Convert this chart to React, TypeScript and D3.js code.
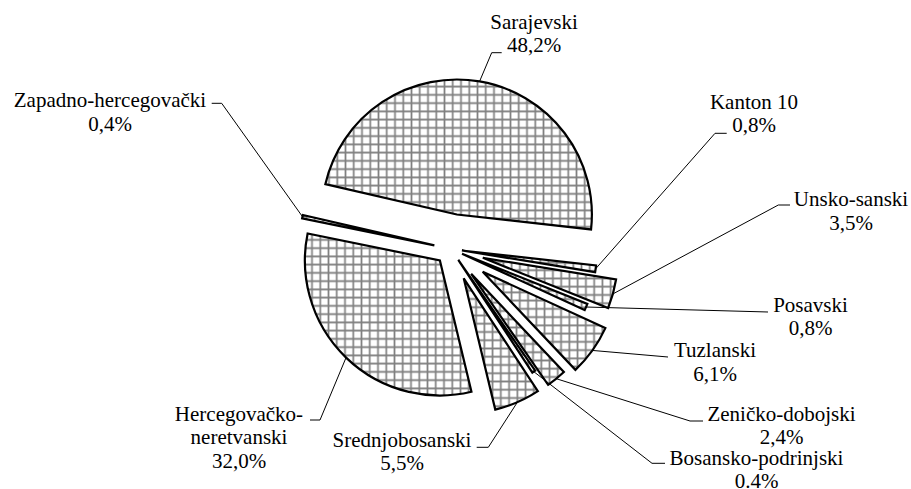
import React from "react";
import * as d3 from "d3";

// shares by canton, clockwise from the top slice
const categories = [
  "Sarajevski",
  "Kanton 10",
  "Unsko-sanski",
  "Posavski",
  "Tuzlanski",
  "Zeničko-dobojski",
  "Bosansko-podrinjski",
  "Srednjobosanski",
  "Hercegovačko-\nneretvanski",
  "Zapadno-hercegovački",
];
const shares = [48.2, 0.8, 3.5, 0.8, 6.1, 2.4, 0.4, 5.5, 32.0, 0.4];
const shareLabels = ["48,2%", "0,8%", "3,5%", "0,8%", "6,1%", "2,4%", "0.4%", "5,5%", "32,0%", "0,4%"];

// how far each slice is pulled out of the pie (px)
const explode = [35, 11, 33, 12, 39, 32, 13, 32, 16, 17];

// where each label sits and how its leader bends (px)
const labelLayout = [
  { x: 534, y: 28.5, leader: [[491.7, 52.7], [501.7, 52.7]] },
  { x: 754, y: 108.5, leader: [[715, 133.3], [726.7, 133.3]] },
  { x: 851, y: 206, leader: [[778.3, 205], [790, 205]] },
  { x: 810.5, y: 311.7, leader: [[768, 312]] },
  { x: 715, y: 357.3, leader: [[668, 357]] },
  { x: 781.5, y: 420.5, leader: [[690, 421], [703, 421]] },
  { x: 756.5, y: 464.5, leader: [[652, 463.3], [665, 463.3]] },
  { x: 402, y: 446.7, leader: [[488.3, 447.3], [476.7, 447.3]] },
  { x: 239, y: 420.5, leader: [[320, 420], [310, 420]] },
  { x: 110, y: 107, leader: [[221.7, 103.3], [211.7, 103.3]] },
];

const width = 911;
const height = 489;
const cx = 451;
const cy = 249;
const radius = 135;
const lineHeight = 23.5;
const startDeg = -77;
const font = "Liberation Serif";

export default function App() {
  const pie = d3
    .pie<number>()
    .sort(null)
    .startAngle((startDeg * Math.PI) / 180)
    .endAngle((startDeg * Math.PI) / 180 + 2 * Math.PI);
  const arcs = pie(shares);
  const arc = d3.arc<d3.PieArcDatum<number>>().innerRadius(0).outerRadius(radius);

  return (
    <svg
      width={width}
      height={height}
      style={{ position: "absolute", left: 0, top: 0, background: "#fff" }}
    >
      <defs>
        <pattern id="grid" patternUnits="userSpaceOnUse" width={8.25} height={8.25}>
          <rect width={8.25} height={8.25} fill="#fff" />
          <path d="M0 4.125H8.25M4.125 0V8.25" stroke="#808080" strokeWidth={1.7} />
        </pattern>
      </defs>

      {arcs.map((a, i) => {
        const mid = (a.startAngle + a.endAngle) / 2;
        const ox = cx + explode[i] * Math.sin(mid);
        const oy = cy - explode[i] * Math.cos(mid);
        return (
          <path
            key={"s" + i}
            d={arc(a) || ""}
            transform={`translate(${ox},${oy})`}
            fill="url(#grid)"
            stroke="#000"
            strokeWidth={2.2}
            strokeLinejoin="miter"
          />
        );
      })}

      {arcs.map((a, i) => {
        const mid = (a.startAngle + a.endAngle) / 2;
        const r = explode[i] + radius;
        const start: [number, number] = [cx + r * Math.sin(mid), cy - r * Math.cos(mid)];
        const pts = [start, ...(labelLayout[i].leader as [number, number][])];
        return (
          <path
            key={"l" + i}
            d={d3.line()(pts) || ""}
            fill="none"
            stroke="#000"
            strokeWidth={1}
          />
        );
      })}

      {categories.map((name, i) => {
        const lines = [...name.split("\n"), shareLabels[i]];
        const lay = labelLayout[i];
        return (
          <text
            key={"t" + i}
            x={lay.x}
            y={lay.y}
            textAnchor="middle"
            fill="#000"
            fontSize={21}
            style={{ fontFamily: `"${font}"` }}
          >
            {lines.map((ln, j) => (
              <tspan key={j} x={lay.x} dy={j === 0 ? 0 : lineHeight}>
                {ln}
              </tspan>
            ))}
          </text>
        );
      })}
    </svg>
  );
}
